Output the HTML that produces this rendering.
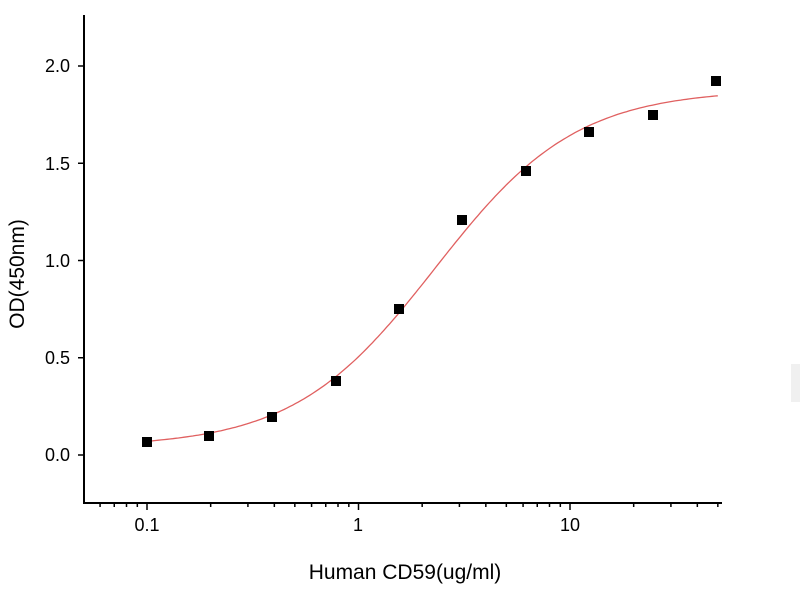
<!DOCTYPE html>
<html><head><meta charset="utf-8"><style>
html,body{margin:0;padding:0;background:#fff;}
svg{display:block;font-family:"Liberation Sans",sans-serif;}
</style></head><body>
<svg id="s" width="800" height="600" xmlns="http://www.w3.org/2000/svg">
<rect x="791" y="364" width="9" height="38" fill="#f0f0f0"/>
<line x1="84" y1="15" x2="84" y2="504" stroke="#000" stroke-width="2"/>
<line x1="83" y1="503" x2="722" y2="503" stroke="#000" stroke-width="2"/>
<g id="g" stroke="#000" stroke-width="1.5"></g>
<g font-size="18" fill="#000" text-anchor="end">
<text x="70" y="72">2.0</text>
<text x="70" y="170">1.5</text>
<text x="70" y="267">1.0</text>
<text x="70" y="364">0.5</text>
<text x="70" y="461">0.0</text>
</g>
<g font-size="18" fill="#000" text-anchor="middle">
<text x="147" y="531">0.1</text>
<text x="358" y="531">1</text>
<text x="570" y="531">10</text>
</g>
<text x="405" y="579" font-size="21" text-anchor="middle">Human CD59(ug/ml)</text>
<text transform="translate(24,274) rotate(-90)" font-size="21" text-anchor="middle">OD(450nm)</text>
<path id="c" fill="none" stroke="#e06060" stroke-width="1.3"/>
<g id="p" fill="#000"></g>
</svg>
<script>
var X=function(v){return 147+211.5*Math.log10(v/0.1);},Y=function(o){return 455-194.5*o;};
var g=document.getElementById('g'),h='';
[2,1.5,1,0.5,0].forEach(function(o){var y=Y(o);h+='<line x1="78" y1="'+y+'" x2="84" y2="'+y+'"/>';});
[0.01,0.1,1,10].forEach(function(d){for(var k=1;k<10;k++){var v=d*k,x=X(v);if(x<84||x>722)continue;var L=(k==1)?7:4;h+='<line x1="'+x+'" y1="503" x2="'+x+'" y2="'+(503+L)+'"/>';}});
g.innerHTML=h;
var d='';for(var i=0;i<=200;i++){var v=0.1*Math.pow(500,i/200),o=0.04+1.84/(1+Math.pow(2.3/v,1.3));d+=(i?'L':'M')+X(v).toFixed(1)+' '+Y(o).toFixed(1);}
document.getElementById('c').setAttribute('d',d);
var pts=[[147,442],[209,436],[272,417],[336,381],[399,309],[462,220],[526,171],[589,132],[653,115],[716,81]],q='';
pts.forEach(function(p){q+='<rect x="'+(p[0]-5)+'" y="'+(p[1]-5)+'" width="10" height="10"/>';});
document.getElementById('p').innerHTML=q;
</script>
</body></html>
